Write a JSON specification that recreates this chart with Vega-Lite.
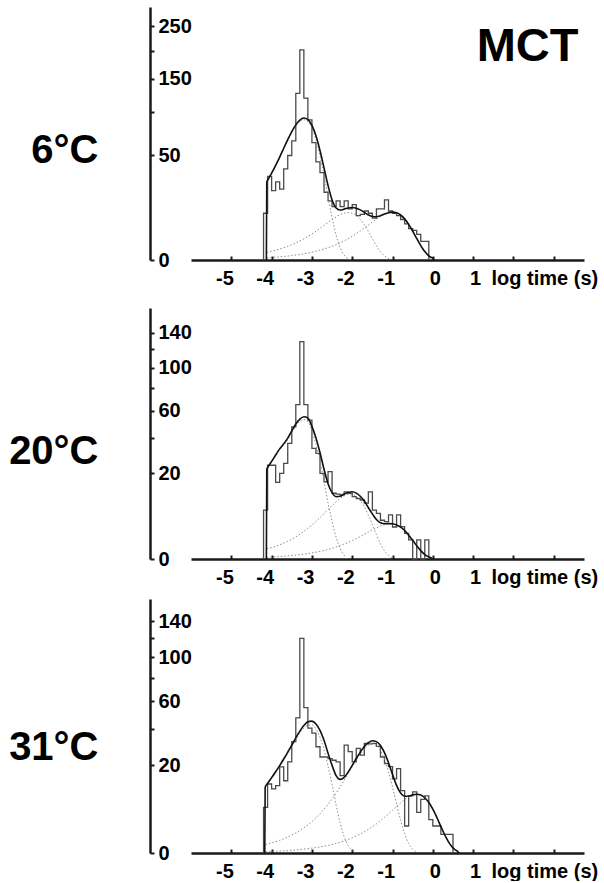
{
  "$schema": "https://vega.github.io/schema/vega-lite/v6.json",
  "background": "white",
  "padding": {"left": 8, "top": 7, "right": 0, "bottom": 0},
  "config": {
    "font": "Liberation Sans",
    "view": {"stroke": null},
    "axis": {"grid": false, "labelFont": "Liberation Sans", "titleFont": "Liberation Sans", "labelColor": "#000", "titleColor": "#000", "labelFontWeight": "bold", "titleFontWeight": "bold", "labelFontSize": 20, "labelOverlap": false, "labelFlush": false, "domainColor": "#1a1a1a", "tickColor": "#1a1a1a", "tickWidth": 2, "domainWidth": 2.5}
  },
  "datasets": {
    "h1": [
      {"x": -4.2, "v": 0}, {"x": -4.2, "v": 10}, {"x": -4.1, "v": 32}, {"x": -4.0, "v": 22}, {"x": -3.9, "v": 28}, {"x": -3.8, "v": 23}, {"x": -3.7, "v": 38}, {"x": -3.6, "v": 50}, {"x": -3.5, "v": 65}, {"x": -3.4, "v": 127}, {"x": -3.3, "v": 202}, {"x": -3.2, "v": 120}, {"x": -3.1, "v": 90}, {"x": -3.0, "v": 63}, {"x": -2.9, "v": 44}, {"x": -2.8, "v": 35}, {"x": -2.7, "v": 21}, {"x": -2.6, "v": 16}, {"x": -2.5, "v": 13}, {"x": -2.4, "v": 16}, {"x": -2.3, "v": 13}, {"x": -2.2, "v": 16}, {"x": -2.1, "v": 12}, {"x": -2.0, "v": 14}, {"x": -1.9, "v": 9}, {"x": -1.8, "v": 9.5}, {"x": -1.7, "v": 11}, {"x": -1.6, "v": 10}, {"x": -1.5, "v": 8}, {"x": -1.4, "v": 12}, {"x": -1.3, "v": 12}, {"x": -1.2, "v": 16.5}, {"x": -1.1, "v": 11}, {"x": -1.0, "v": 10}, {"x": -0.9, "v": 9}, {"x": -0.8, "v": 7.5}, {"x": -0.7, "v": 6}, {"x": -0.6, "v": 4.5}, {"x": -0.5, "v": 4}, {"x": -0.4, "v": 3}, {"x": -0.3, "v": 1.6}, {"x": -0.2, "v": 1.6}, {"x": -0.1, "v": 0}
    ],
    "f1": [
      {"c": "total", "x": -4.13, "v": 0}, {"c": "total", "x": -4.12, "v": 28}, {"c": "total", "x": -4.1, "v": 29}, {"c": "total", "x": -4.0, "v": 34.5}, {"c": "total", "x": -3.9, "v": 41}, {"c": "total", "x": -3.8, "v": 48.5}, {"c": "total", "x": -3.7, "v": 57.2}, {"c": "total", "x": -3.6, "v": 66.3}, {"c": "total", "x": -3.5, "v": 75.5}, {"c": "total", "x": -3.4, "v": 83.6}, {"c": "total", "x": -3.3, "v": 89.6}, {"c": "total", "x": -3.2, "v": 92.3}, {"c": "total", "x": -3.1, "v": 90.3}, {"c": "total", "x": -3.0, "v": 82.9}, {"c": "total", "x": -2.9, "v": 70.6}, {"c": "total", "x": -2.8, "v": 54.9}, {"c": "total", "x": -2.7, "v": 38.8}, {"c": "total", "x": -2.6, "v": 25.4}, {"c": "total", "x": -2.5, "v": 16.5}, {"c": "total", "x": -2.4, "v": 12.4}, {"c": "total", "x": -2.3, "v": 11.45}, {"c": "total", "x": -2.2, "v": 11.85}, {"c": "total", "x": -2.1, "v": 12.4}, {"c": "total", "x": -2.0, "v": 12.6}, {"c": "total", "x": -1.9, "v": 12.3}, {"c": "total", "x": -1.8, "v": 11.5}, {"c": "total", "x": -1.7, "v": 10.4}, {"c": "total", "x": -1.6, "v": 9.3}, {"c": "total", "x": -1.5, "v": 8.66}, {"c": "total", "x": -1.4, "v": 8.56}, {"c": "total", "x": -1.3, "v": 9.0}, {"c": "total", "x": -1.2, "v": 9.66}, {"c": "total", "x": -1.1, "v": 10.25}, {"c": "total", "x": -1.0, "v": 10.5}, {"c": "total", "x": -0.9, "v": 10.2}, {"c": "total", "x": -0.8, "v": 9.27}, {"c": "total", "x": -0.7, "v": 7.74}, {"c": "total", "x": -0.6, "v": 5.82}, {"c": "total", "x": -0.5, "v": 3.82}, {"c": "total", "x": -0.4, "v": 2.12}, {"c": "total", "x": -0.3, "v": 0.95}, {"c": "total", "x": -0.25, "v": 0.58}, {"c": "total", "x": -0.2, "v": 0.33}, {"c": "total", "x": -0.15, "v": 0.17}, {"c": "total", "x": -0.1, "v": 0.08}, {"c": "total", "x": -0.05, "v": 0.034}, {"c": "total", "x": 0.0, "v": 0.013}, {"c": "total", "x": 0.03, "v": 0},
      {"c": "c1", "x": -4.12, "v": 27.7}, {"c": "c1", "x": -4.1, "v": 28.7}, {"c": "c1", "x": -4.0, "v": 34.1}, {"c": "c1", "x": -3.9, "v": 40.5}, {"c": "c1", "x": -3.8, "v": 47.9}, {"c": "c1", "x": -3.7, "v": 56.4}, {"c": "c1", "x": -3.6, "v": 65.4}, {"c": "c1", "x": -3.5, "v": 74.3}, {"c": "c1", "x": -3.4, "v": 82.1}, {"c": "c1", "x": -3.3, "v": 87.8}, {"c": "c1", "x": -3.2, "v": 90}, {"c": "c1", "x": -3.1, "v": 87.5}, {"c": "c1", "x": -3.0, "v": 79.5}, {"c": "c1", "x": -2.9, "v": 66.4}, {"c": "c1", "x": -2.8, "v": 49.9}, {"c": "c1", "x": -2.7, "v": 32.8}, {"c": "c1", "x": -2.6, "v": 18.2}, {"c": "c1", "x": -2.5, "v": 8.15}, {"c": "c1", "x": -2.45, "v": 4.97}, {"c": "c1", "x": -2.4, "v": 2.8}, {"c": "c1", "x": -2.35, "v": 1.46}, {"c": "c1", "x": -2.3, "v": 0.69}, {"c": "c1", "x": -2.25, "v": 0.29}, {"c": "c1", "x": -2.2, "v": 0.11}, {"c": "c1", "x": -2.15, "v": 0.037}, {"c": "c1", "x": -2.1, "v": 0.01}, {"c": "c1", "x": -2.05, "v": 0},
      {"c": "c2", "x": -4.12, "v": 0.26}, {"c": "c2", "x": -4.0, "v": 0.35}, {"c": "c2", "x": -3.8, "v": 0.55}, {"c": "c2", "x": -3.6, "v": 0.86}, {"c": "c2", "x": -3.4, "v": 1.33}, {"c": "c2", "x": -3.2, "v": 2.05}, {"c": "c2", "x": -3.0, "v": 3.11}, {"c": "c2", "x": -2.8, "v": 4.58}, {"c": "c2", "x": -2.6, "v": 6.45}, {"c": "c2", "x": -2.4, "v": 8.5}, {"c": "c2", "x": -2.3, "v": 9.4}, {"c": "c2", "x": -2.2, "v": 10.05}, {"c": "c2", "x": -2.1, "v": 10.3}, {"c": "c2", "x": -2.0, "v": 10.0}, {"c": "c2", "x": -1.9, "v": 9.1}, {"c": "c2", "x": -1.8, "v": 7.6}, {"c": "c2", "x": -1.7, "v": 5.7}, {"c": "c2", "x": -1.6, "v": 3.75}, {"c": "c2", "x": -1.5, "v": 2.08}, {"c": "c2", "x": -1.4, "v": 0.93}, {"c": "c2", "x": -1.35, "v": 0.57}, {"c": "c2", "x": -1.3, "v": 0.32}, {"c": "c2", "x": -1.25, "v": 0.17}, {"c": "c2", "x": -1.2, "v": 0.079}, {"c": "c2", "x": -1.15, "v": 0.034}, {"c": "c2", "x": -1.1, "v": 0.013}, {"c": "c2", "x": -1.05, "v": 0},
      {"c": "c3", "x": -4.12, "v": 0.02}, {"c": "c3", "x": -4.0, "v": 0.028}, {"c": "c3", "x": -3.5, "v": 0.09}, {"c": "c3", "x": -3.0, "v": 0.28}, {"c": "c3", "x": -2.8, "v": 0.45}, {"c": "c3", "x": -2.6, "v": 0.7}, {"c": "c3", "x": -2.4, "v": 1.09}, {"c": "c3", "x": -2.2, "v": 1.69}, {"c": "c3", "x": -2.0, "v": 2.58}, {"c": "c3", "x": -1.8, "v": 3.86}, {"c": "c3", "x": -1.6, "v": 5.58}, {"c": "c3", "x": -1.4, "v": 7.63}, {"c": "c3", "x": -1.3, "v": 8.67}, {"c": "c3", "x": -1.2, "v": 9.58}, {"c": "c3", "x": -1.1, "v": 10.24}, {"c": "c3", "x": -1.0, "v": 10.5}, {"c": "c3", "x": -0.9, "v": 10.2}, {"c": "c3", "x": -0.8, "v": 9.27}, {"c": "c3", "x": -0.7, "v": 7.74}, {"c": "c3", "x": -0.6, "v": 5.82}, {"c": "c3", "x": -0.5, "v": 3.82}, {"c": "c3", "x": -0.4, "v": 2.12}, {"c": "c3", "x": -0.3, "v": 0.95}, {"c": "c3", "x": -0.25, "v": 0.58}, {"c": "c3", "x": -0.2, "v": 0.33}, {"c": "c3", "x": -0.15, "v": 0.17}, {"c": "c3", "x": -0.1, "v": 0.08}, {"c": "c3", "x": -0.05, "v": 0.034}, {"c": "c3", "x": 0.0, "v": 0.013}, {"c": "c3", "x": 0.05, "v": 0}
    ],
    "h2": [
      {"x": -4.2, "v": 0}, {"x": -4.2, "v": 6.5}, {"x": -4.1, "v": 24}, {"x": -4.0, "v": 24}, {"x": -3.9, "v": 16}, {"x": -3.8, "v": 20}, {"x": -3.7, "v": 25}, {"x": -3.6, "v": 36.5}, {"x": -3.5, "v": 47.7}, {"x": -3.4, "v": 65}, {"x": -3.3, "v": 129}, {"x": -3.2, "v": 65}, {"x": -3.1, "v": 52.7}, {"x": -3.0, "v": 33.4}, {"x": -2.9, "v": 30.5}, {"x": -2.8, "v": 20}, {"x": -2.7, "v": 16.3}, {"x": -2.6, "v": 20.8}, {"x": -2.5, "v": 11.8}, {"x": -2.4, "v": 11.5}, {"x": -2.3, "v": 11.2}, {"x": -2.2, "v": 12.3}, {"x": -2.1, "v": 11.8}, {"x": -2.0, "v": 10.6}, {"x": -1.9, "v": 10}, {"x": -1.8, "v": 9.5}, {"x": -1.7, "v": 8.5}, {"x": -1.6, "v": 12.3}, {"x": -1.5, "v": 6.5}, {"x": -1.4, "v": 5.7}, {"x": -1.3, "v": 4.1}, {"x": -1.2, "v": 3.8}, {"x": -1.1, "v": 5.3}, {"x": -1.0, "v": 2.8}, {"x": -0.9, "v": 5.3}, {"x": -0.8, "v": 2.85}, {"x": -0.7, "v": 1.8}, {"x": -0.6, "v": 1}, {"x": -0.5, "v": 0}, {"x": -0.4, "v": 1}, {"x": -0.3, "v": 0}, {"x": -0.2, "v": 1}, {"x": -0.1, "v": 0}
    ],
    "f2": [
      {"c": "total", "x": -4.13, "v": 0}, {"c": "total", "x": -4.12, "v": 22.0}, {"c": "total", "x": -4.1, "v": 22.8}, {"c": "total", "x": -4.0, "v": 26.0}, {"c": "total", "x": -3.9, "v": 29.5}, {"c": "total", "x": -3.8, "v": 33.1}, {"c": "total", "x": -3.7, "v": 36.2}, {"c": "total", "x": -3.6, "v": 39.9}, {"c": "total", "x": -3.5, "v": 44.8}, {"c": "total", "x": -3.4, "v": 49.8}, {"c": "total", "x": -3.3, "v": 53.4}, {"c": "total", "x": -3.2, "v": 55.2}, {"c": "total", "x": -3.1, "v": 54.2}, {"c": "total", "x": -3.0, "v": 48}, {"c": "total", "x": -2.9, "v": 40}, {"c": "total", "x": -2.8, "v": 31}, {"c": "total", "x": -2.7, "v": 22}, {"c": "total", "x": -2.6, "v": 15.5}, {"c": "total", "x": -2.5, "v": 12}, {"c": "total", "x": -2.4, "v": 10.6}, {"c": "total", "x": -2.3, "v": 10.76}, {"c": "total", "x": -2.2, "v": 11.5}, {"c": "total", "x": -2.1, "v": 12.1}, {"c": "total", "x": -2.0, "v": 12.35}, {"c": "total", "x": -1.9, "v": 11.84}, {"c": "total", "x": -1.8, "v": 10.75}, {"c": "total", "x": -1.7, "v": 9.16}, {"c": "total", "x": -1.6, "v": 7.2}, {"c": "total", "x": -1.5, "v": 5.55}, {"c": "total", "x": -1.4, "v": 4.25}, {"c": "total", "x": -1.3, "v": 3.58}, {"c": "total", "x": -1.2, "v": 3.4}, {"c": "total", "x": -1.1, "v": 3.42}, {"c": "total", "x": -1.0, "v": 3.38}, {"c": "total", "x": -0.9, "v": 3.16}, {"c": "total", "x": -0.8, "v": 2.77}, {"c": "total", "x": -0.7, "v": 2.21}, {"c": "total", "x": -0.6, "v": 1.55}, {"c": "total", "x": -0.5, "v": 0.96}, {"c": "total", "x": -0.4, "v": 0.48}, {"c": "total", "x": -0.3, "v": 0.19}, {"c": "total", "x": -0.2, "v": 0.055}, {"c": "total", "x": -0.15, "v": 0.026}, {"c": "total", "x": -0.1, "v": 0.011}, {"c": "total", "x": -0.05, "v": 0.004}, {"c": "total", "x": 0.0, "v": 0},
      {"c": "c1", "x": -4.12, "v": 21.7}, {"c": "c1", "x": -4.1, "v": 22.5}, {"c": "c1", "x": -4.0, "v": 25.6}, {"c": "c1", "x": -3.9, "v": 29}, {"c": "c1", "x": -3.8, "v": 32.5}, {"c": "c1", "x": -3.7, "v": 35.5}, {"c": "c1", "x": -3.6, "v": 39}, {"c": "c1", "x": -3.5, "v": 43.7}, {"c": "c1", "x": -3.4, "v": 48.4}, {"c": "c1", "x": -3.3, "v": 51.7}, {"c": "c1", "x": -3.2, "v": 53}, {"c": "c1", "x": -3.1, "v": 51.5}, {"c": "c1", "x": -3.0, "v": 44.7}, {"c": "c1", "x": -2.9, "v": 36}, {"c": "c1", "x": -2.8, "v": 26.2}, {"c": "c1", "x": -2.7, "v": 16.2}, {"c": "c1", "x": -2.6, "v": 8.6}, {"c": "c1", "x": -2.5, "v": 3.9}, {"c": "c1", "x": -2.45, "v": 2.3}, {"c": "c1", "x": -2.4, "v": 1.3}, {"c": "c1", "x": -2.35, "v": 0.65}, {"c": "c1", "x": -2.3, "v": 0.3}, {"c": "c1", "x": -2.25, "v": 0.12}, {"c": "c1", "x": -2.2, "v": 0.04}, {"c": "c1", "x": -2.15, "v": 0},
      {"c": "c2", "x": -4.12, "v": 0.29}, {"c": "c2", "x": -4.0, "v": 0.35}, {"c": "c2", "x": -3.8, "v": 0.55}, {"c": "c2", "x": -3.6, "v": 0.86}, {"c": "c2", "x": -3.4, "v": 1.34}, {"c": "c2", "x": -3.2, "v": 2.07}, {"c": "c2", "x": -3.0, "v": 3.15}, {"c": "c2", "x": -2.8, "v": 4.66}, {"c": "c2", "x": -2.6, "v": 6.65}, {"c": "c2", "x": -2.4, "v": 8.92}, {"c": "c2", "x": -2.3, "v": 10.0}, {"c": "c2", "x": -2.2, "v": 10.86}, {"c": "c2", "x": -2.1, "v": 11.43}, {"c": "c2", "x": -2.0, "v": 11.42}, {"c": "c2", "x": -1.9, "v": 10.7}, {"c": "c2", "x": -1.8, "v": 9.37}, {"c": "c2", "x": -1.7, "v": 7.5}, {"c": "c2", "x": -1.6, "v": 5.23}, {"c": "c2", "x": -1.5, "v": 3.25}, {"c": "c2", "x": -1.4, "v": 1.61}, {"c": "c2", "x": -1.3, "v": 0.63}, {"c": "c2", "x": -1.25, "v": 0.36}, {"c": "c2", "x": -1.2, "v": 0.19}, {"c": "c2", "x": -1.15, "v": 0.088}, {"c": "c2", "x": -1.1, "v": 0.037}, {"c": "c2", "x": -1.05, "v": 0.014}, {"c": "c2", "x": -1.0, "v": 0},
      {"c": "c3", "x": -4.12, "v": 0.008}, {"c": "c3", "x": -3.5, "v": 0.033}, {"c": "c3", "x": -3.0, "v": 0.1}, {"c": "c3", "x": -2.6, "v": 0.25}, {"c": "c3", "x": -2.2, "v": 0.61}, {"c": "c3", "x": -2.0, "v": 0.93}, {"c": "c3", "x": -1.8, "v": 1.38}, {"c": "c3", "x": -1.6, "v": 1.97}, {"c": "c3", "x": -1.4, "v": 2.64}, {"c": "c3", "x": -1.3, "v": 2.95}, {"c": "c3", "x": -1.2, "v": 3.21}, {"c": "c3", "x": -1.1, "v": 3.38}, {"c": "c3", "x": -1.0, "v": 3.38}, {"c": "c3", "x": -0.9, "v": 3.16}, {"c": "c3", "x": -0.8, "v": 2.77}, {"c": "c3", "x": -0.7, "v": 2.21}, {"c": "c3", "x": -0.6, "v": 1.55}, {"c": "c3", "x": -0.5, "v": 0.96}, {"c": "c3", "x": -0.4, "v": 0.48}, {"c": "c3", "x": -0.3, "v": 0.19}, {"c": "c3", "x": -0.2, "v": 0.055}, {"c": "c3", "x": -0.15, "v": 0.026}, {"c": "c3", "x": -0.1, "v": 0.011}, {"c": "c3", "x": -0.05, "v": 0.004}, {"c": "c3", "x": 0.0, "v": 0}
    ],
    "h3": [
      {"x": -4.2, "v": 0}, {"x": -4.2, "v": 5.4}, {"x": -4.1, "v": 12.4}, {"x": -4.0, "v": 10.7}, {"x": -3.9, "v": 11.8}, {"x": -3.8, "v": 19.3}, {"x": -3.7, "v": 13.6}, {"x": -3.6, "v": 21.6}, {"x": -3.5, "v": 32.3}, {"x": -3.4, "v": 47.5}, {"x": -3.3, "v": 120}, {"x": -3.2, "v": 55}, {"x": -3.1, "v": 40.6}, {"x": -3.0, "v": 37.4}, {"x": -2.9, "v": 29.4}, {"x": -2.8, "v": 24}, {"x": -2.7, "v": 24}, {"x": -2.6, "v": 23.2}, {"x": -2.5, "v": 22.4}, {"x": -2.4, "v": 21.6}, {"x": -2.3, "v": 15.6}, {"x": -2.2, "v": 30.3}, {"x": -2.1, "v": 26.8}, {"x": -2.0, "v": 21.6}, {"x": -1.9, "v": 28.5}, {"x": -1.8, "v": 24.9}, {"x": -1.7, "v": 31.3}, {"x": -1.6, "v": 31}, {"x": -1.5, "v": 31.3}, {"x": -1.4, "v": 29.6}, {"x": -1.3, "v": 24}, {"x": -1.2, "v": 20.8}, {"x": -1.1, "v": 19.4}, {"x": -1.0, "v": 14.3}, {"x": -0.9, "v": 18.5}, {"x": -0.8, "v": 10.1}, {"x": -0.7, "v": 1.9}, {"x": -0.6, "v": 8.5}, {"x": -0.5, "v": 9.7}, {"x": -0.4, "v": 4.3}, {"x": -0.3, "v": 7.5}, {"x": -0.2, "v": 8.5}, {"x": -0.1, "v": 2.9}, {"x": 0.0, "v": 1.9}, {"x": 0.1, "v": 1.9}, {"x": 0.2, "v": 0.9}, {"x": 0.3, "v": 0.9}, {"x": 0.4, "v": 0.9}, {"x": 0.5, "v": 0}
    ],
    "f3": [
      {"c": "total", "x": -4.17, "v": 0}, {"c": "total", "x": -4.16, "v": 11.3}, {"c": "total", "x": -4.1, "v": 12.6}, {"c": "total", "x": -4.0, "v": 14.8}, {"c": "total", "x": -3.9, "v": 17.2}, {"c": "total", "x": -3.8, "v": 19.9}, {"c": "total", "x": -3.7, "v": 23.0}, {"c": "total", "x": -3.6, "v": 26.5}, {"c": "total", "x": -3.5, "v": 30.3}, {"c": "total", "x": -3.4, "v": 34.5}, {"c": "total", "x": -3.3, "v": 38.7}, {"c": "total", "x": -3.2, "v": 42.3}, {"c": "total", "x": -3.1, "v": 44.8}, {"c": "total", "x": -3.0, "v": 45.3}, {"c": "total", "x": -2.9, "v": 43.3}, {"c": "total", "x": -2.8, "v": 39.1}, {"c": "total", "x": -2.7, "v": 33.1}, {"c": "total", "x": -2.6, "v": 25.9}, {"c": "total", "x": -2.5, "v": 20.0}, {"c": "total", "x": -2.4, "v": 15.6}, {"c": "total", "x": -2.3, "v": 14.1}, {"c": "total", "x": -2.2, "v": 14.9}, {"c": "total", "x": -2.1, "v": 17.1}, {"c": "total", "x": -2.0, "v": 20.0}, {"c": "total", "x": -1.9, "v": 23.25}, {"c": "total", "x": -1.8, "v": 26.5}, {"c": "total", "x": -1.7, "v": 29.5}, {"c": "total", "x": -1.6, "v": 31.65}, {"c": "total", "x": -1.5, "v": 32.8}, {"c": "total", "x": -1.4, "v": 32.3}, {"c": "total", "x": -1.3, "v": 30.1}, {"c": "total", "x": -1.2, "v": 26.2}, {"c": "total", "x": -1.1, "v": 21.2}, {"c": "total", "x": -1.0, "v": 16.1}, {"c": "total", "x": -0.9, "v": 11.9}, {"c": "total", "x": -0.8, "v": 9.35}, {"c": "total", "x": -0.7, "v": 8.4}, {"c": "total", "x": -0.6, "v": 8.45}, {"c": "total", "x": -0.5, "v": 8.8}, {"c": "total", "x": -0.4, "v": 9.0}, {"c": "total", "x": -0.3, "v": 8.75}, {"c": "total", "x": -0.2, "v": 7.95}, {"c": "total", "x": -0.1, "v": 6.64}, {"c": "total", "x": 0.0, "v": 4.99}, {"c": "total", "x": 0.1, "v": 3.28}, {"c": "total", "x": 0.2, "v": 1.82}, {"c": "total", "x": 0.3, "v": 0.82}, {"c": "total", "x": 0.35, "v": 0.5}, {"c": "total", "x": 0.4, "v": 0.28}, {"c": "total", "x": 0.45, "v": 0.146}, {"c": "total", "x": 0.5, "v": 0.069}, {"c": "total", "x": 0.55, "v": 0.029}, {"c": "total", "x": 0.6, "v": 0.011}, {"c": "total", "x": 0.65, "v": 0},
      {"c": "c1", "x": -4.16, "v": 11.1}, {"c": "c1", "x": -4.1, "v": 12.4}, {"c": "c1", "x": -4.0, "v": 14.5}, {"c": "c1", "x": -3.9, "v": 16.9}, {"c": "c1", "x": -3.8, "v": 19.5}, {"c": "c1", "x": -3.7, "v": 22.5}, {"c": "c1", "x": -3.6, "v": 25.8}, {"c": "c1", "x": -3.5, "v": 29.5}, {"c": "c1", "x": -3.4, "v": 33.4}, {"c": "c1", "x": -3.3, "v": 37.4}, {"c": "c1", "x": -3.2, "v": 40.6}, {"c": "c1", "x": -3.1, "v": 42.7}, {"c": "c1", "x": -3.0, "v": 42.7}, {"c": "c1", "x": -2.9, "v": 40.0}, {"c": "c1", "x": -2.8, "v": 35.0}, {"c": "c1", "x": -2.7, "v": 28.0}, {"c": "c1", "x": -2.6, "v": 19.6}, {"c": "c1", "x": -2.5, "v": 12.2}, {"c": "c1", "x": -2.4, "v": 6.0}, {"c": "c1", "x": -2.3, "v": 2.37}, {"c": "c1", "x": -2.25, "v": 1.34}, {"c": "c1", "x": -2.2, "v": 0.7}, {"c": "c1", "x": -2.15, "v": 0.33}, {"c": "c1", "x": -2.1, "v": 0.14}, {"c": "c1", "x": -2.05, "v": 0.053}, {"c": "c1", "x": -2.0, "v": 0.017}, {"c": "c1", "x": -1.95, "v": 0},
      {"c": "c2", "x": -4.15, "v": 0.19}, {"c": "c2", "x": -4.0, "v": 0.27}, {"c": "c2", "x": -3.8, "v": 0.42}, {"c": "c2", "x": -3.6, "v": 0.66}, {"c": "c2", "x": -3.4, "v": 1.05}, {"c": "c2", "x": -3.2, "v": 1.65}, {"c": "c2", "x": -3.0, "v": 2.58}, {"c": "c2", "x": -2.8, "v": 4.02}, {"c": "c2", "x": -2.6, "v": 6.18}, {"c": "c2", "x": -2.4, "v": 9.35}, {"c": "c2", "x": -2.3, "v": 11.4}, {"c": "c2", "x": -2.2, "v": 13.8}, {"c": "c2", "x": -2.1, "v": 16.5}, {"c": "c2", "x": -2.0, "v": 19.4}, {"c": "c2", "x": -1.9, "v": 22.5}, {"c": "c2", "x": -1.8, "v": 25.6}, {"c": "c2", "x": -1.7, "v": 28.3}, {"c": "c2", "x": -1.6, "v": 30.2}, {"c": "c2", "x": -1.5, "v": 31}, {"c": "c2", "x": -1.4, "v": 30.1}, {"c": "c2", "x": -1.3, "v": 27.4}, {"c": "c2", "x": -1.2, "v": 22.9}, {"c": "c2", "x": -1.1, "v": 17.2}, {"c": "c2", "x": -1.0, "v": 11.3}, {"c": "c2", "x": -0.9, "v": 6.26}, {"c": "c2", "x": -0.8, "v": 2.81}, {"c": "c2", "x": -0.75, "v": 1.71}, {"c": "c2", "x": -0.7, "v": 0.97}, {"c": "c2", "x": -0.65, "v": 0.5}, {"c": "c2", "x": -0.6, "v": 0.24}, {"c": "c2", "x": -0.55, "v": 0.1}, {"c": "c2", "x": -0.5, "v": 0.038}, {"c": "c2", "x": -0.45, "v": 0.013}, {"c": "c2", "x": -0.4, "v": 0},
      {"c": "c3", "x": -4.15, "v": 0.004}, {"c": "c3", "x": -3.5, "v": 0.019}, {"c": "c3", "x": -3.0, "v": 0.061}, {"c": "c3", "x": -2.6, "v": 0.15}, {"c": "c3", "x": -2.2, "v": 0.38}, {"c": "c3", "x": -2.0, "v": 0.6}, {"c": "c3", "x": -1.8, "v": 0.94}, {"c": "c3", "x": -1.6, "v": 1.45}, {"c": "c3", "x": -1.4, "v": 2.21}, {"c": "c3", "x": -1.2, "v": 3.31}, {"c": "c3", "x": -1.0, "v": 4.78}, {"c": "c3", "x": -0.9, "v": 5.64}, {"c": "c3", "x": -0.8, "v": 6.54}, {"c": "c3", "x": -0.7, "v": 7.43}, {"c": "c3", "x": -0.6, "v": 8.21}, {"c": "c3", "x": -0.5, "v": 8.78}, {"c": "c3", "x": -0.4, "v": 9.0}, {"c": "c3", "x": -0.3, "v": 8.75}, {"c": "c3", "x": -0.2, "v": 7.95}, {"c": "c3", "x": -0.1, "v": 6.64}, {"c": "c3", "x": 0.0, "v": 4.99}, {"c": "c3", "x": 0.1, "v": 3.28}, {"c": "c3", "x": 0.2, "v": 1.82}, {"c": "c3", "x": 0.3, "v": 0.82}, {"c": "c3", "x": 0.35, "v": 0.5}, {"c": "c3", "x": 0.4, "v": 0.28}, {"c": "c3", "x": 0.45, "v": 0.146}, {"c": "c3", "x": 0.5, "v": 0.069}, {"c": "c3", "x": 0.55, "v": 0.029}, {"c": "c3", "x": 0.6, "v": 0.011}, {"c": "c3", "x": 0.65, "v": 0}
    ]
  },
  "bounds": "flush",
  "spacing": 48,
  "vconcat": [
    {
      "width": 393, "height": 253,
      "encoding": {
        "x": {"field": "x", "type": "quantitative", "scale": {"domain": [-6, 3.75], "nice": false, "zero": false},
          "axis": {"values": [-5, -4, -3, -2, -1, 0, 1, 2, 3], "labelExpr": "datum.value <= 1 ? '' + datum.value : ''", "labelAlign": {"condition": {"test": "datum.value < 0", "value": "right"}, "value": "center"}, "labelOffset": 2, "labelPadding": 12, "tickSize": -4, "title": "log time (s)", "titleX": 300, "titleY": 24, "titleAlign": "left", "titleAnchor": "start", "titleBaseline": "alphabetic", "titleFontSize": 20}},
        "y": {"field": "v", "type": "quantitative", "scale": {"type": "sqrt", "domain": [0, 293], "nice": false},
          "axis": {"values": [0, 50, 100, 150, 200, 250], "labelExpr": "datum.value == 100 || datum.value == 200 ? '' : '' + datum.value", "offset": 41, "title": "6°C", "titleAngle": 0, "titleAlign": "right", "titleBaseline": "middle", "titleX": -52, "titleY": 143, "titleFontSize": 40, "labelAlign": "left", "labelBaseline": "middle", "labelPadding": -4, "tickSize": -4}}
      },
      "layer": [
        {"data": {"name": "h1"}, "mark": {"type": "line", "interpolate": "step-after", "color": "#4a4a4a", "strokeWidth": 1.3}, "encoding": {"order": {"value": null}}},
        {"data": {"name": "f1"}, "transform": [{"filter": "datum.c != 'total'"}], "mark": {"type": "line", "interpolate": "monotone", "color": "#8c8c8c", "strokeWidth": 1, "strokeDash": [1.5, 2]}, "encoding": {"detail": {"field": "c"}, "order": {"value": null}}},
        {"data": {"name": "f1"}, "transform": [{"filter": "datum.c == 'total'"}], "mark": {"type": "line", "interpolate": "monotone", "color": "#111111", "strokeWidth": 1.6}, "encoding": {"order": {"value": null}}},
        {"data": {"values": [{"x": 2.35, "v": 208, "label": "MCT"}]}, "mark": {"type": "text", "fontSize": 47, "fontWeight": "bold", "font": "Liberation Sans", "align": "center", "baseline": "middle", "color": "#000"}, "encoding": {"text": {"field": "label"}}}
      ]
    },
    {
      "bounds": "flush",
      "spacing": 40,
      "vconcat": [
        {
          "width": 393, "height": 251,
          "encoding": {
            "x": {"field": "x", "type": "quantitative", "scale": {"domain": [-6, 3.75], "nice": false, "zero": false},
              "axis": {"values": [-5, -4, -3, -2, -1, 0, 1, 2, 3], "labelExpr": "datum.value <= 1 ? '' + datum.value : ''", "labelAlign": {"condition": {"test": "datum.value < 0", "value": "right"}, "value": "center"}, "labelOffset": 2, "labelPadding": 12, "tickSize": -4, "title": "log time (s)", "titleX": 300, "titleY": 24, "titleAlign": "left", "titleAnchor": "start", "titleBaseline": "alphabetic", "titleFontSize": 20}},
            "y": {"field": "v", "type": "quantitative", "scale": {"type": "sqrt", "domain": [0, 172], "nice": false},
              "axis": {"values": [0, 20, 40, 60, 80, 100, 120, 140], "labelExpr": "datum.value == 40 || datum.value == 80 || datum.value == 120 ? '' : '' + datum.value", "offset": 41, "title": "20°C", "titleAngle": 0, "titleAlign": "right", "titleBaseline": "middle", "titleX": -52, "titleY": 143, "titleFontSize": 40, "labelAlign": "left", "labelBaseline": "middle", "labelPadding": -4, "tickSize": -4}}
          },
          "layer": [
            {"data": {"name": "h2"}, "mark": {"type": "line", "interpolate": "step-after", "color": "#4a4a4a", "strokeWidth": 1.3}, "encoding": {"order": {"value": null}}},
            {"data": {"name": "f2"}, "transform": [{"filter": "datum.c != 'total'"}], "mark": {"type": "line", "interpolate": "monotone", "color": "#8c8c8c", "strokeWidth": 1, "strokeDash": [1.5, 2]}, "encoding": {"detail": {"field": "c"}, "order": {"value": null}}},
            {"data": {"name": "f2"}, "transform": [{"filter": "datum.c == 'total'"}], "mark": {"type": "line", "interpolate": "monotone", "color": "#111111", "strokeWidth": 1.6}, "encoding": {"order": {"value": null}}}
          ]
        },
        {
          "width": 393, "height": 254,
          "encoding": {
            "x": {"field": "x", "type": "quantitative", "scale": {"domain": [-6, 3.75], "nice": false, "zero": false},
              "axis": {"values": [-5, -4, -3, -2, -1, 0, 1, 2, 3], "labelExpr": "datum.value <= 1 ? '' + datum.value : ''", "labelAlign": {"condition": {"test": "datum.value < 0", "value": "right"}, "value": "center"}, "labelOffset": 2, "labelPadding": 12, "tickSize": -4, "title": "log time (s)", "titleX": 300, "titleY": 24, "titleAlign": "left", "titleAnchor": "start", "titleBaseline": "alphabetic", "titleFontSize": 20}},
            "y": {"field": "v", "type": "quantitative", "scale": {"type": "sqrt", "domain": [0, 168], "nice": false},
              "axis": {"values": [0, 20, 40, 60, 80, 100, 120, 140], "labelExpr": "datum.value == 40 || datum.value == 80 || datum.value == 120 ? '' : '' + datum.value", "offset": 41, "title": "31°C", "titleAngle": 0, "titleAlign": "right", "titleBaseline": "middle", "titleX": -52, "titleY": 148, "titleFontSize": 40, "labelAlign": "left", "labelBaseline": "middle", "labelPadding": -4, "tickSize": -4}}
          },
          "layer": [
            {"data": {"name": "h3"}, "mark": {"type": "line", "interpolate": "step-after", "color": "#4a4a4a", "strokeWidth": 1.3}, "encoding": {"order": {"value": null}}},
            {"data": {"name": "f3"}, "transform": [{"filter": "datum.c != 'total'"}], "mark": {"type": "line", "interpolate": "monotone", "color": "#8c8c8c", "strokeWidth": 1, "strokeDash": [1.5, 2]}, "encoding": {"detail": {"field": "c"}, "order": {"value": null}}},
            {"data": {"name": "f3"}, "transform": [{"filter": "datum.c == 'total'"}], "mark": {"type": "line", "interpolate": "monotone", "color": "#111111", "strokeWidth": 1.6}, "encoding": {"order": {"value": null}}}
          ]
        }
      ]
    }
  ]
}
